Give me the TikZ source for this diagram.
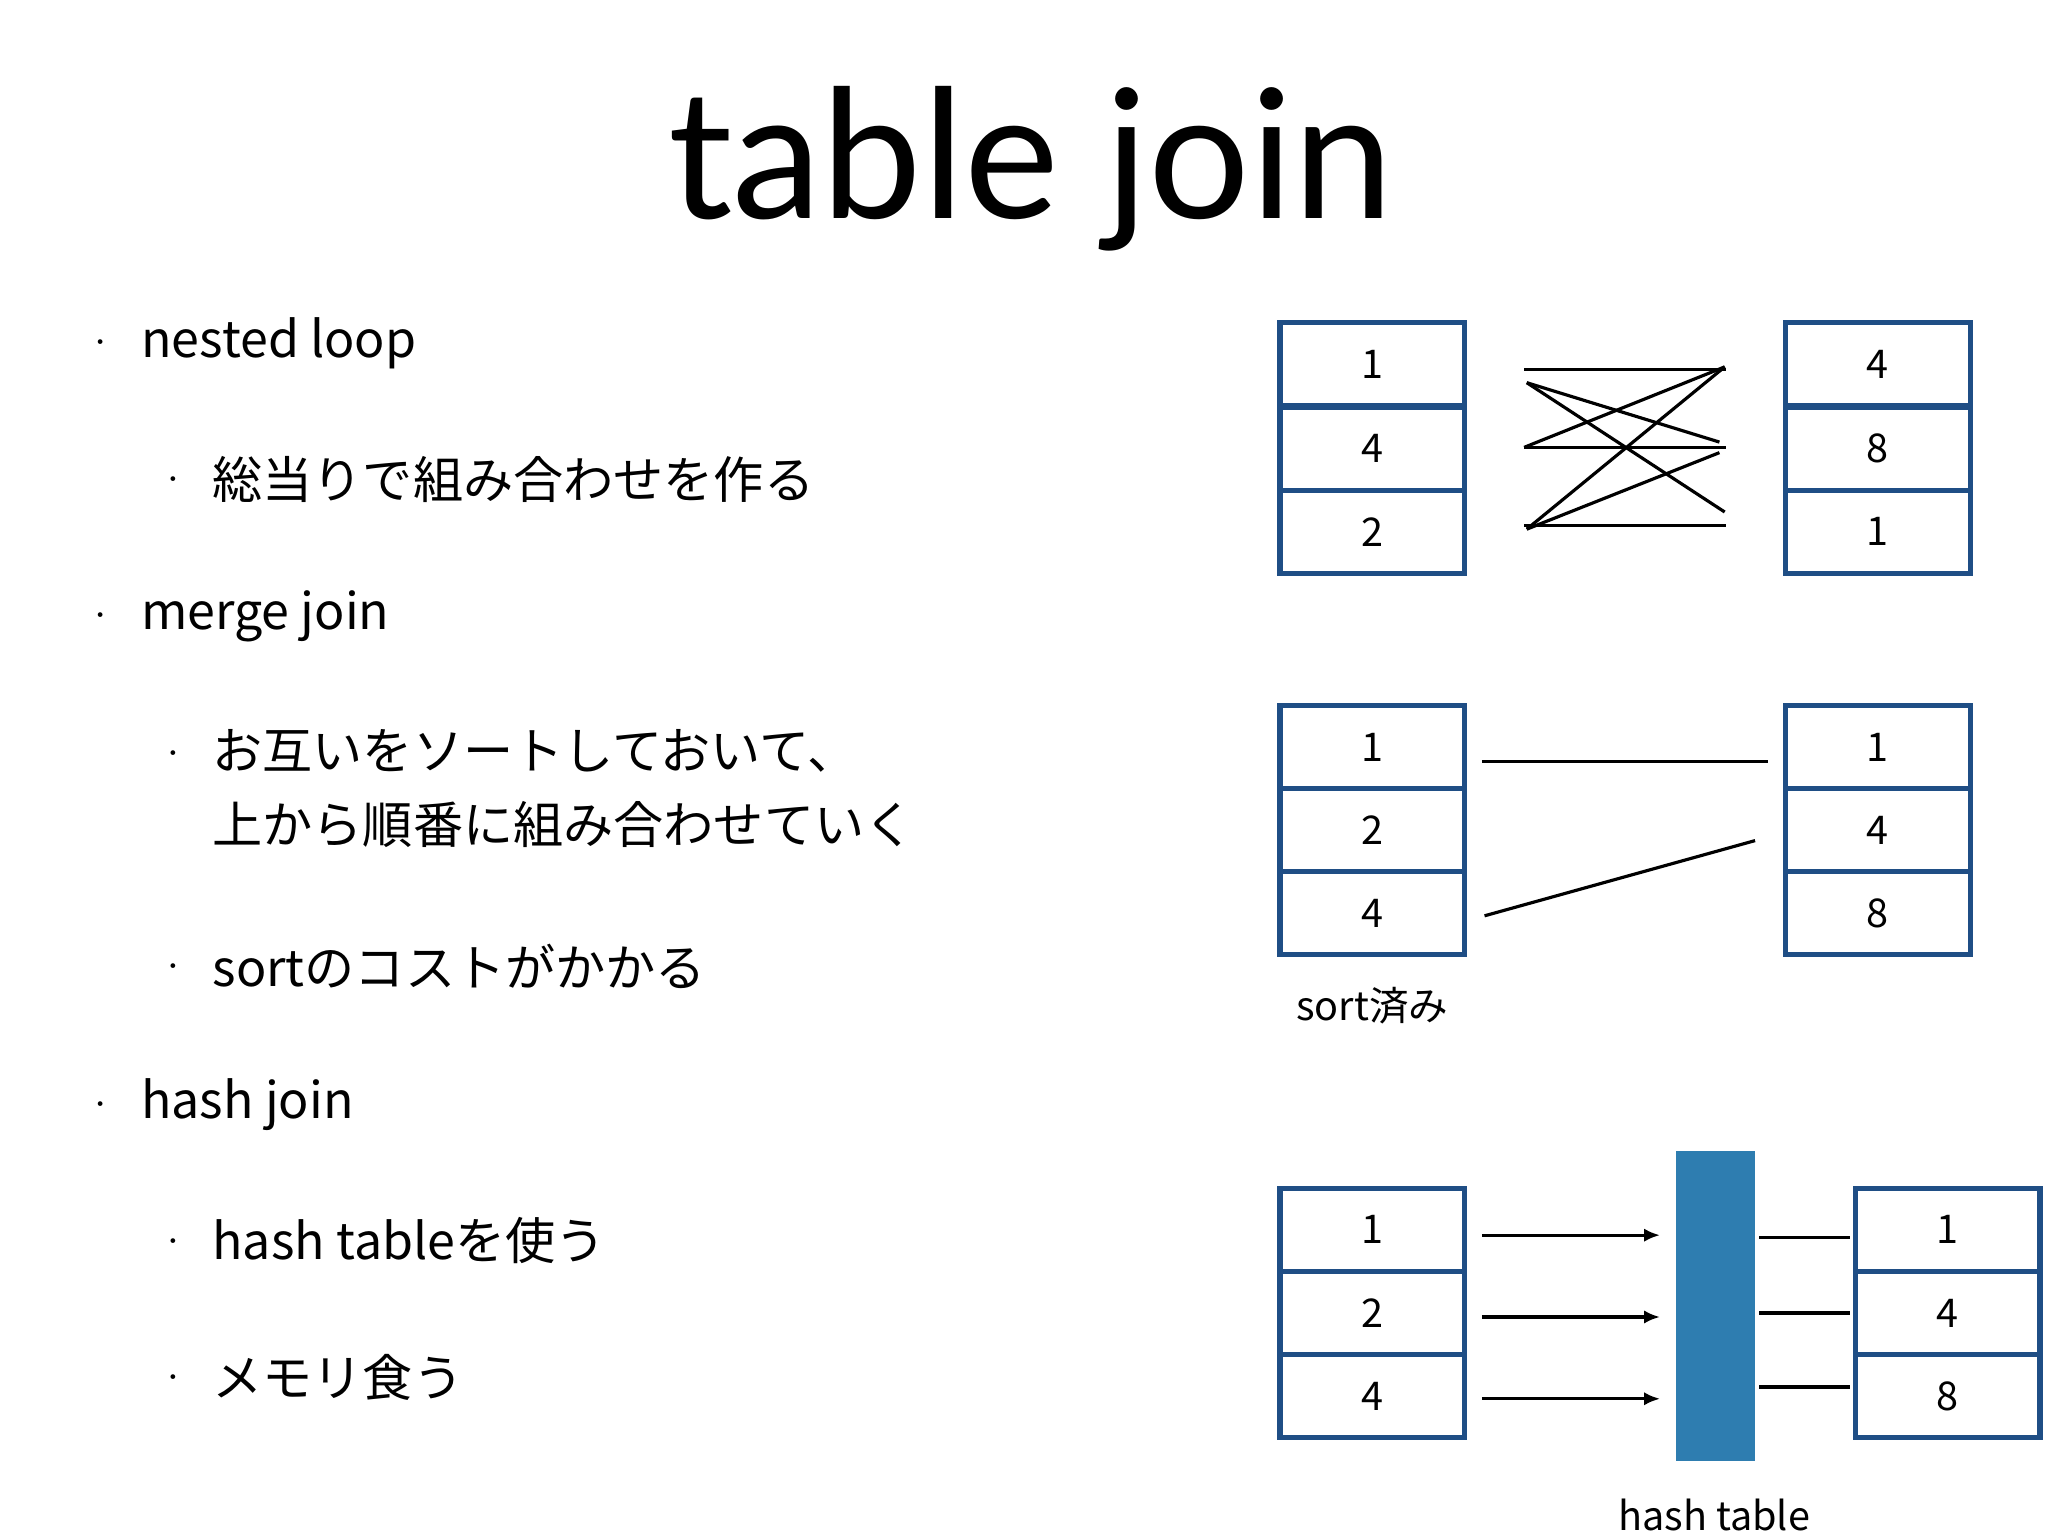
\documentclass[tikz,border=0pt]{standalone}
\usepackage{fontspec}
\setmainfont{Lato}
\newfontfamily\jp{Noto Sans CJK JP}
\usetikzlibrary{arrows.meta}
\definecolor{bx}{HTML}{1F4E85}
\definecolor{ht}{HTML}{2E7DB0}
\begin{document}
\begin{tikzpicture}[x=0.5pt,y=-0.5pt,
  cell/.style={draw=bx,line width=2pt,minimum width=70pt,minimum height=31.5pt,inner sep=0pt,font=\fontsize{15}{15}\selectfont\jp},
  lone/.style={font=\fontsize{19}{24}\selectfont\jp,anchor=west,align=left},
  ltwo/.style={font=\fontsize{19}{28}\selectfont\jp,anchor=west,align=left},
  dot/.style={font=\fontsize{12}{12}\selectfont,anchor=center},
  ln/.style={line width=1.2pt}]
\useasboundingbox (0,0) rectangle (1552,1164);
\node[font=\fontsize{68}{68}\selectfont] (title) at (781,128) {table join};
% bullets
\foreach \n/\x/\y in {a/76/262,b/131/366,c/76/469,d/131/573,e/131/735,f/76/839,g/131/943,h/131/1046}
  \node[dot] (dot\n) at (\x,\y) {·};
\node[lone] (t1) at (100,260) {nested loop};
\node[ltwo] (t2) at (154,363) {総当りで組み合わせを作る};
\node[lone] (t3) at (100,467) {merge join};
\node[ltwo,anchor=north west] (t4) at (154,546) {お互いをソートしておいて、\\上から順番に組み合わせていく};
\node[ltwo] (t5) at (154,732) {sortのコストがかかる};
\node[lone] (t6) at (100,837) {hash join};
\node[ltwo] (t7) at (154,940) {hash tableを使う};
\node[ltwo] (t8) at (154,1044) {メモリ食う};
% nested loop
\foreach \i/\v/\y in {1/1/276,2/4/340,3/2/403} \node[cell] (na\i) at (1040,\y) {\v};
\foreach \i/\v/\y in {1/4/276,2/8/340,3/1/403} \node[cell] (nb\i) at (1423,\y) {\v};
\coordinate (l1) at (1155,280); \coordinate (l2) at (1155,339); \coordinate (l3) at (1155,398);
\coordinate (r1) at (1308,280); \coordinate (r2) at (1308,339); \coordinate (r3) at (1308,398);
\coordinate (l1b) at (1157,290); \coordinate (l3b) at (1157,401);
\draw[ln] (l1)--(r1); \draw[ln] (l2)--(r2); \draw[ln] (l3)--(r3);
\coordinate (r2a) at (1303,335); \coordinate (r3a) at (1307,388);
\coordinate (r1a) at (1307,278); \coordinate (r2b) at (1303,343);
\draw[ln] (l1b)--(r2a); \draw[ln] (l1b)--(r3a);
\draw[ln] (l2)--(r1a); \draw[ln] (l3b)--(r1a); \draw[ln] (l3b)--(r2b);
% merge
\foreach \i/\v/\y in {1/1/566,2/2/629,3/4/692} \node[cell] (ma\i) at (1040,\y) {\v};
\foreach \i/\v/\y in {1/1/566,2/4/629,3/8/692} \node[cell] (mb\i) at (1423,\y) {\v};
\coordinate (m1) at (1123,577); \coordinate (m2) at (1340,577);
\coordinate (m3) at (1125,694); \coordinate (m4) at (1330,637);
\draw[ln] (m1)--(m2); \draw[ln] (m3)--(m4);
\node[font=\fontsize{15}{15}\selectfont\jp] (sorted) at (1040,762) {sort済み};
% hash
\foreach \i/\v/\y in {1/1/932,2/2/995,3/4/1058} \node[cell] (ha\i) at (1040,\y) {\v};
\foreach \i/\v/\y in {1/1/932,2/4/995,3/8/1058} \node[cell] (hb\i) at (1476,\y) {\v};
\node[fill=ht,minimum width=30pt,minimum height=117.5pt,inner sep=0pt] (htab) at (1300,989.5) {};
\foreach \y in {936,998,1060} {\coordinate (as\y) at (1123,\y); \coordinate (ae\y) at (1258,\y);
  \draw[ln,-{Latex[length=6pt,width=5pt]}] (as\y)--(ae\y);}
\foreach \y in {938,995,1051} {\coordinate (bs\y) at (1333,\y); \coordinate (be\y) at (1402,\y);
  \draw[ln] (bs\y)--(be\y);}
\node[font=\fontsize{15}{15}\selectfont\jp] (hlabel) at (1299,1148) {hash table};
\end{tikzpicture}
\end{document}
